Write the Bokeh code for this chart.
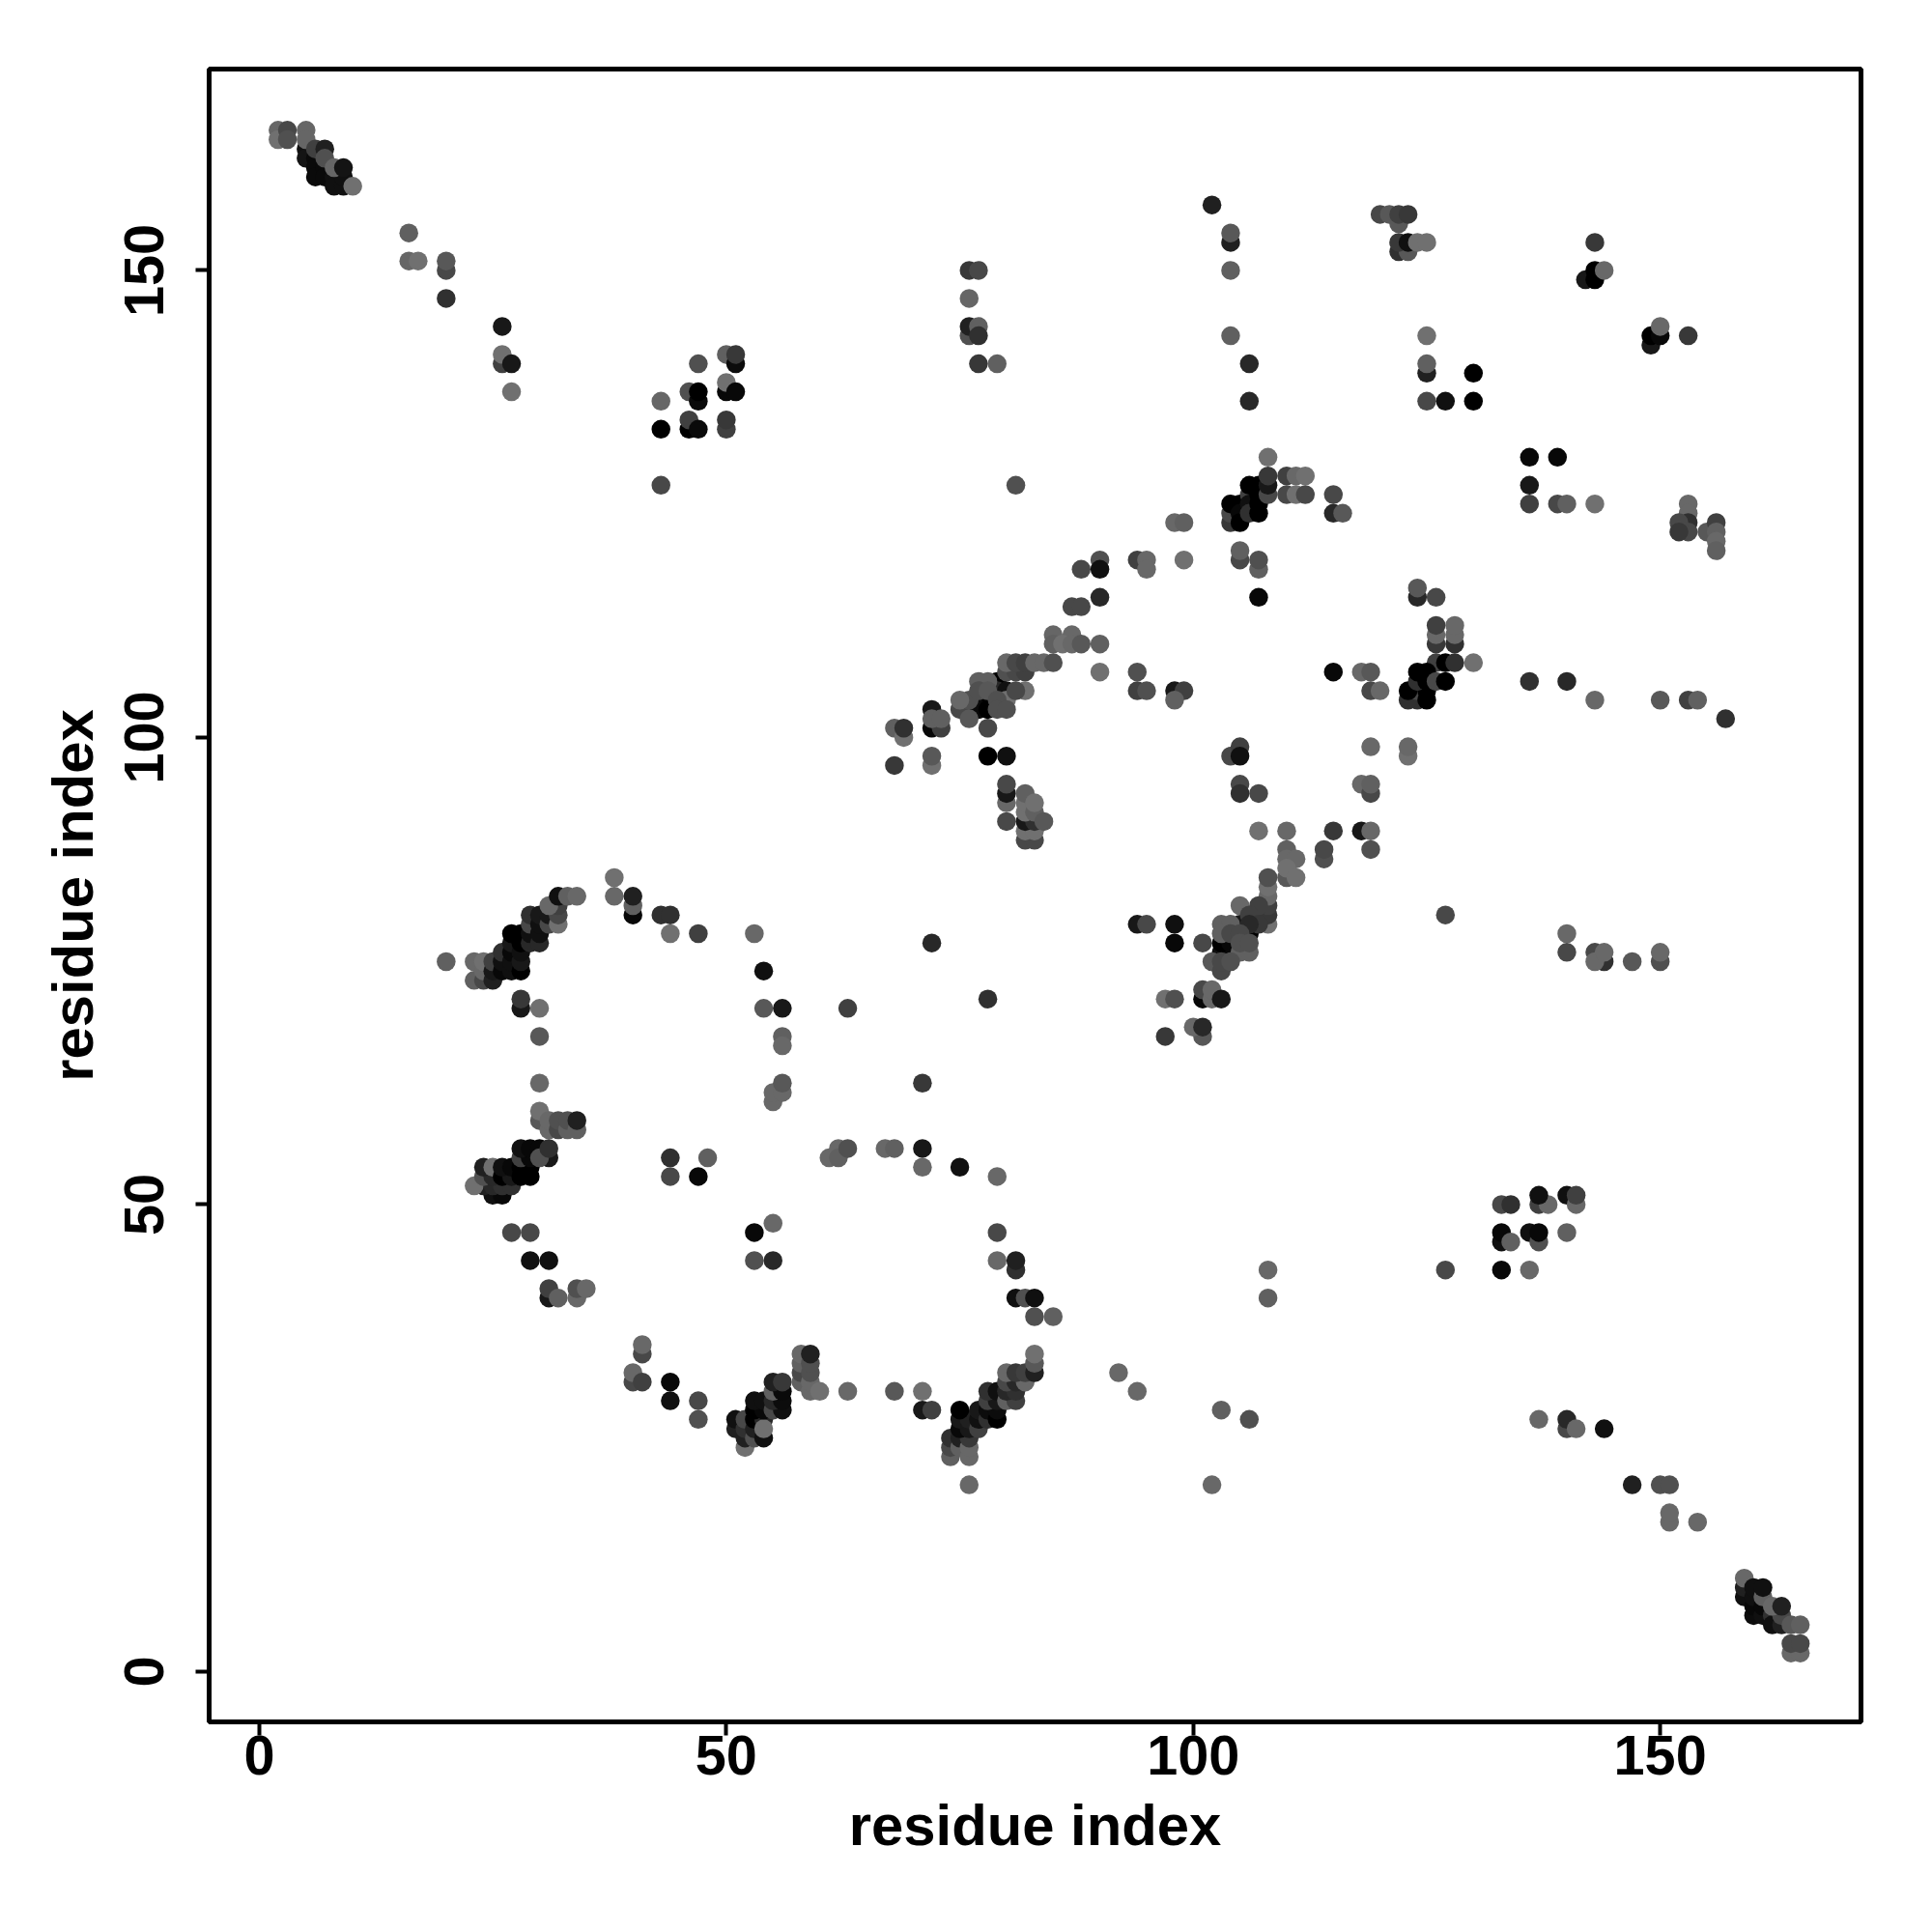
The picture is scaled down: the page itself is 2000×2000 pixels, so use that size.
from bokeh.plotting import figure
from bokeh.models import ColumnDataSource, FixedTicker
from bokeh.embed import file_html
from bokeh.resources import INLINE

# (residue x, residue y, grey level of the contact)
diag_top = [(2,165,0x66),(2,164,0x70),(3,165,0x48),(3,164,0x50),(5,163,0x10),(5,162,0x14),(5,165,0x66),(5,164,0x66),
 (6,162,0x0a),(6,161,0x0a),(6,160,0x0a),(7,161,0x0a),(7,160,0x0a),(8,160,0x10),(8,159,0x10),(9,159,0x10),(9,160,0x10),
 (6,163,0x40),(7,163,0x20),(7,162,0x50),(8,161,0x66),(9,161,0x14),(10,159,0x70)]
upper_left = [(16,154,0x60),(16,151,0x66),(17,151,0x70),(20,150,0x48),(20,151,0x58),(20,147,0x30),(26,144,0x18),
 (26,140,0x40),(26,141,0x70),(27,140,0x18),(27,137,0x70),(43,136,0x66),(43,133,0x00),(47,140,0x50),(46,137,0x50),
 (47,136,0x0a),(47,137,0x00),(46,133,0x00),(46,134,0x40),(47,133,0x0a),(50,141,0x60),(51,140,0x0c),(51,141,0x38),
 (50,137,0x08),(50,138,0x70),(51,137,0x08),(50,133,0x40),(50,134,0x38),(43,127,0x48)]
upper_right = [(120,156,0x48),(121,156,0x58),(122,155,0x58),(122,156,0x40),(123,156,0x38),(122,152,0x30),(123,152,0x58),
 (122,153,0x38),(123,153,0x10),(124,153,0x70),(125,153,0x70),(143,153,0x38),(142,149,0x18),(143,149,0x00),(143,150,0x00),
 (144,150,0x68),(149,142,0x18),(149,143,0x00),(150,143,0x08),(150,144,0x68),(153,143,0x38),(125,143,0x70),(125,139,0x20),
 (125,140,0x60),(130,139,0x00),(125,136,0x48),(127,136,0x10),(130,136,0x00),(102,157,0x20),(104,153,0x20),(104,154,0x58),
 (104,150,0x60),(104,143,0x60),(106,140,0x28),(106,136,0x28),(76,150,0x38),(77,150,0x48),(76,147,0x66),(76,143,0x50),
 (76,144,0x20),(77,144,0x60),(77,143,0x30),(77,140,0x38),(79,140,0x60),(81,127,0x50)]
right_mid = [(136,130,0x08),(139,130,0x08),(136,127,0x18),(136,125,0x40),(139,125,0x48),(140,125,0x60),(143,125,0x70),
 (153,125,0x68),(153,124,0x68),(153,123,0x30),(153,122,0x48),(152,123,0x48),(152,122,0x38),(155,122,0x58),(156,123,0x40),
 (156,122,0x60),(156,121,0x68),(156,120,0x60)]
chain_b = [(87,114,0x48),(88,114,0x48),(88,118,0x48),(90,119,0x50),(90,118,0x10),(90,115,0x28),(94,119,0x40),(95,119,0x68),
 (95,118,0x68),(98,123,0x68),(99,123,0x60),(99,119,0x70),(90,107,0x70),(90,110,0x60),(85,111,0x66),(87,111,0x68),
 (85,110,0x60),(86,110,0x70),(87,110,0x68),(88,110,0x58),(94,107,0x50),(94,105,0x40),(95,105,0x50),(98,105,0x18),
 (99,105,0x40),(98,104,0x60)]
chain_c = [(77,104,0x10),(78,104,0x00),(77,103,0x0a),(78,103,0x00),(79,106,0x00),(79,105,0x28),(80,105,0x10),
 (80,107,0x50),(81,107,0x48),(82,107,0x40),(80,108,0x68),(81,108,0x48),(82,108,0x40),(83,108,0x68),(84,108,0x68),
 (85,108,0x50),(82,105,0x70),(75,103,0x48),(76,104,0x50),(75,104,0x68),(76,102,0x58),(77,106,0x60),(78,106,0x60),(77,105,0x50),
 (78,105,0x58),(80,104,0x70),(79,104,0x50),(79,103,0x50),(80,103,0x50),(81,105,0x48),
 (78,101,0x48),(72,101,0x08),(73,101,0x40),(72,103,0x18),(72,102,0x60),(73,102,0x60),
 (68,101,0x60),(69,100,0x70),(69,101,0x30),(68,97,0x38),(72,97,0x70),(72,98,0x58),(78,98,0x00),(80,98,0x10),(80,93,0x68),
 (80,94,0x18),(80,95,0x48),(80,91,0x48),(82,89,0x48),(83,89,0x48),(82,90,0x70),(83,90,0x70),(82,91,0x18),(83,91,0x30),
 (82,92,0x70),(82,93,0x70),(83,92,0x60),(82,94,0x60),(83,93,0x70),(84,91,0x58)]
chain_d = [(104,123,0x38),(104,124,0x48),(104,125,0x00),(105,125,0x00),(105,124,0x08),(105,123,0x00),(106,126,0x40),
 (106,125,0x10),(106,124,0x30),(107,125,0x00),(107,124,0x00),(106,127,0x00),(107,127,0x00),(107,126,0x00),(108,126,0x48),(108,127,0x18),
 (108,128,0x38),(108,130,0x70),(110,128,0x40),(111,128,0x68),(112,128,0x70),(110,126,0x48),(111,126,0x70),(112,126,0x48),
 (115,126,0x48),(115,124,0x28),(116,124,0x58),(105,119,0x48),(105,120,0x60),(107,118,0x60),(107,119,0x50),(107,115,0x08),
 (115,107,0x08),(118,107,0x68),(119,107,0x58),(119,105,0x48),(120,105,0x68),(119,99,0x68),(123,98,0x70),(123,99,0x68),
 (118,95,0x68),(119,94,0x48),(119,95,0x60),(104,98,0x48),(105,99,0x40),(105,98,0x10),(105,95,0x48),(105,94,0x30),(107,94,0x48)]
chain_e = [(124,115,0x28),(124,116,0x58),(126,115,0x48),(126,110,0x38),(126,111,0x68),(126,112,0x40),(128,110,0x30),(128,111,0x68),
 (128,112,0x68),(130,108,0x70),(126,108,0x40),(127,108,0x00),(128,108,0x30),(124,104,0x30),(123,104,0x30),(124,105,0x48),
 (123,105,0x00),(125,104,0x00),(125,105,0x00),(124,106,0x30),(125,106,0x00),(124,107,0x00),(125,107,0x00),(126,106,0x48),(127,106,0x00),
 (136,106,0x30),(140,106,0x28),(143,104,0x68),(150,104,0x58),(153,104,0x40),(154,104,0x60),(157,102,0x30)]
chain_f = [(103,77,0x10),(104,77,0x08),(103,78,0x00),(104,78,0x08),(106,79,0x00),(105,80,0x18),
 (107,90,0x70),(110,90,0x68),(115,90,0x38),(118,90,0x18),(119,90,0x68),(119,88,0x50),(110,88,0x60),(110,87,0x68),
 (111,87,0x68),(110,85,0x58),(110,86,0x70),(111,85,0x70),(114,87,0x50),(114,88,0x48),(108,80,0x70),(108,81,0x38),(108,82,0x40),
 (108,83,0x68),(108,84,0x70),(108,85,0x50),(107,82,0x40),(105,82,0x68),(106,81,0x40),(107,80,0x38),(103,80,0x60),(104,80,0x60),
 (106,80,0x28),(103,79,0x60),(104,79,0x48),(105,79,0x48),(105,77,0x60),(106,77,0x60),(105,78,0x50),(106,78,0x50),
 (102,76,0x58),(103,75,0x48),(103,76,0x48),(104,76,0x50),(94,80,0x18),(95,80,0x48),
 (98,80,0x10),(98,78,0x08),(101,78,0x48),(101,72,0x08),(101,73,0x48),(102,72,0x68),(102,73,0x68),(103,72,0x18),(97,72,0x70),(98,72,0x50),
 (97,68,0x38),(101,68,0x58),(100,69,0x68),(101,69,0x28),(127,81,0x48),(140,79,0x68),(140,77,0x48),(143,77,0x48),(144,76,0x30),(143,76,0x68),
 (144,77,0x68),(147,76,0x58),(150,76,0x50),(150,77,0x68)]
lower_a = [(20,76,0x60),(23,74,0x60),(23,76,0x68),(24,74,0x48),(24,75,0x68),(24,76,0x70),(25,74,0x20),(25,75,0x18),(25,76,0x40),
 (26,75,0x08),(26,76,0x10),(26,77,0x30),(27,75,0x10),(27,76,0x10),(27,77,0x08),(27,78,0x18),(27,79,0x00),(28,75,0x00),(28,76,0x18),(28,77,0x10),
 (28,78,0x00),(28,79,0x00),(29,78,0x28),(29,79,0x10),(29,80,0x48),(29,81,0x30),(30,78,0x28),(30,79,0x10),(30,80,0x10),(30,81,0x18),
 (31,80,0x48),(31,81,0x18),(32,80,0x70),(32,81,0x48),(32,82,0x40),(31,82,0x68),(32,83,0x10),(33,83,0x60),(34,83,0x68),
 (38,85,0x70),(38,83,0x68),(40,81,0x08),(40,82,0x60),(40,83,0x20),(43,81,0x30),(44,81,0x30),(44,79,0x70),(47,79,0x40),(53,79,0x68),
 (28,71,0x18),(28,72,0x38),(30,71,0x70),(30,68,0x58),(30,63,0x68),(54,75,0x10),(54,71,0x58),(56,71,0x18),(56,68,0x60),(56,67,0x68),
 (63,71,0x40),(72,78,0x28),(78,72,0x30),(71,63,0x38),(55,61,0x68),(55,62,0x68),(56,62,0x68),(56,63,0x58)]
lower_b = [(30,59,0x58),(30,60,0x70),(31,58,0x68),(31,59,0x68),(32,58,0x48),(32,59,0x50),(33,58,0x60),(33,59,0x50),(34,58,0x60),(34,59,0x20),
 (25,51,0x10),(26,51,0x08),(24,52,0x20),(23,52,0x70),(25,52,0x28),(26,52,0x30),(27,52,0x30),(24,53,0x50),(25,53,0x28),(24,54,0x20),(25,54,0x70),
 (26,53,0x00),(27,53,0x18),(26,54,0x10),(27,54,0x08),(28,53,0x00),(29,53,0x00),(28,54,0x00),(29,54,0x00),(28,55,0x40),(29,55,0x08),
 (28,56,0x10),(29,56,0x08),(30,56,0x08),(31,55,0x18),(30,55,0x50),(31,56,0x30),(44,55,0x30),(44,53,0x48),(47,53,0x08),(48,55,0x60),
 (27,47,0x48),(29,47,0x48),(29,44,0x10),(31,44,0x10),(31,40,0x18),(31,41,0x40),(32,40,0x60),(34,40,0x68),(34,41,0x50),(35,41,0x68),
 (53,47,0x08),(55,48,0x68),(53,44,0x50),(55,44,0x28),(61,55,0x68),(62,56,0x68),(62,55,0x60),(63,56,0x50),(67,56,0x68),(68,56,0x60),
 (71,56,0x18),(71,54,0x68),(75,54,0x10),(79,53,0x68),(79,47,0x48),(79,44,0x68),(81,43,0x30),(81,44,0x20),(81,40,0x10),(82,40,0x50),
 (83,40,0x10),(83,38,0x50),(85,38,0x60)]
lower_c = [(41,34,0x48),(41,35,0x68),(40,31,0x48),(40,32,0x68),(41,31,0x40),(44,31,0x08),(44,29,0x10),(47,29,0x48),(47,27,0x50),
 (51,26,0x20),(51,27,0x10),(52,24,0x70),(52,25,0x20),(52,26,0x30),(52,27,0x48),(53,25,0x50),(53,26,0x20),(54,25,0x10),(53,27,0x00),(54,27,0x28),
 (54,26,0x70),(53,28,0x00),(54,28,0x08),(53,29,0x10),(54,29,0x10),(55,28,0x48),(56,28,0x10),(55,29,0x28),(56,29,0x0c),(55,30,0x60),(56,30,0x0a),
 (55,31,0x20),(56,31,0x38),(58,31,0x60),(58,32,0x48),(58,33,0x60),(58,34,0x68),(59,30,0x68),(59,31,0x68),(59,32,0x50),(59,33,0x50),(59,34,0x20),
 (60,30,0x70),(63,30,0x68),(68,30,0x58)]
lower_d = [(71,30,0x70),(71,28,0x18),(72,28,0x40),(74,23,0x60),(74,24,0x48),(74,25,0x30),(75,24,0x60),(75,25,0x20),(76,23,0x68),(76,24,0x68),(76,25,0x38),
 (75,26,0x08),(76,26,0x18),(75,27,0x18),(76,27,0x20),(75,28,0x00),(77,26,0x40),(77,27,0x10),(77,28,0x18),(78,27,0x30),(78,28,0x0c),(79,27,0x00),(79,28,0x0c),
 (78,29,0x40),(79,29,0x18),(78,30,0x30),(79,30,0x10),(80,29,0x60),(81,29,0x40),(80,30,0x28),(81,30,0x30),(80,31,0x48),(81,31,0x28),(82,31,0x68),
 (80,32,0x68),(81,32,0x38),(82,32,0x40),(83,32,0x20),(83,33,0x58),(83,34,0x70),(76,20,0x68),(92,32,0x68),(94,30,0x68),(103,28,0x60),(106,27,0x50),(102,20,0x68),
 (108,43,0x68),(108,40,0x60)]
lower_right = [(127,43,0x48),(133,50,0x48),(134,50,0x30),(137,50,0x40),(138,50,0x68),(137,51,0x10),(140,51,0x10),(141,50,0x68),(141,51,0x40),
 (133,46,0x10),(133,47,0x08),(134,46,0x60),(136,47,0x10),(137,46,0x50),(137,47,0x08),(140,47,0x60),(133,43,0x08),(136,43,0x68),
 (137,27,0x68),(140,26,0x48),(140,27,0x28),(141,26,0x68),(144,26,0x10),(147,20,0x20),(150,20,0x50),(151,20,0x50),(151,16,0x68),(151,17,0x68),(154,16,0x68)]
diag_bottom = [(159,8,0x10),(159,9,0x20),(159,10,0x68),(160,6,0x0c),(160,7,0x08),(160,8,0x10),(161,6,0x10),(161,7,0x08),(162,6,0x30),(160,9,0x10),(161,8,0x60),(161,9,0x10),
 (162,5,0x10),(163,5,0x20),(163,6,0x48),(162,7,0x68),(163,7,0x20),(164,2,0x68),(165,2,0x68),(164,3,0x48),(165,3,0x48),(164,5,0x58),(165,5,0x60)]

clusters = [diag_top, upper_left, upper_right, right_mid, chain_b, chain_c, chain_d, chain_e, chain_f,
            lower_a, lower_b, lower_c, lower_d, lower_right, diag_bottom]
x_vals = [t[0] for c in clusters for t in c]
y_vals = [t[1] for c in clusters for t in c]
grey_vals = [t[2] for c in clusters for t in c]
colors = ["#%02x%02x%02x" % (g, g, g) for g in grey_vals]
tick_vals = [0, 50, 100, 150]

W, H = 1984, 1984
p = figure(width=W, height=H, output_backend="svg", toolbar_location=None,
           x_range=(-5.38, 171.5), y_range=(-5.38, 171.55),
           min_border_left=216, min_border_right=58, min_border_top=71, min_border_bottom=202,
           background_fill_color="white", border_fill_color="white")
p.grid.visible = False
p.outline_line_color = "black"
p.outline_line_width = 5

p.scatter(x="x", y="y", source=ColumnDataSource(dict(x=x_vals, y=y_vals, c=colors)),
          size=19.5, marker="circle", fill_color="c", line_color=None)

for ax in (p.xaxis[0], p.yaxis[0]):
    ax.ticker = FixedTicker(ticks=tick_vals)
    ax.axis_label = "residue index"
    ax.axis_label_text_font = "Liberation Sans"
    ax.axis_label_text_font_style = "bold"
    ax.axis_label_text_font_size = "59.8px"
    ax.axis_label_text_color = "black"
    ax.major_label_text_font = "Liberation Sans"
    ax.major_label_text_font_style = "bold"
    ax.major_label_text_font_size = "57.6px"
    ax.major_label_text_color = "black"
    ax.axis_line_color = None
    ax.minor_tick_line_color = None
    ax.major_tick_line_color = "black"
    ax.major_tick_line_width = 4
    ax.major_tick_in = 0
    ax.major_tick_out = 14
p.xaxis[0].major_label_standoff = 0
p.xaxis[0].axis_label_standoff = 16
p.yaxis[0].major_label_standoff = 33
p.yaxis[0].axis_label_standoff = 18
p.yaxis[0].major_label_orientation = "vertical"

open("out.html", "w").write(file_html(p, INLINE))
